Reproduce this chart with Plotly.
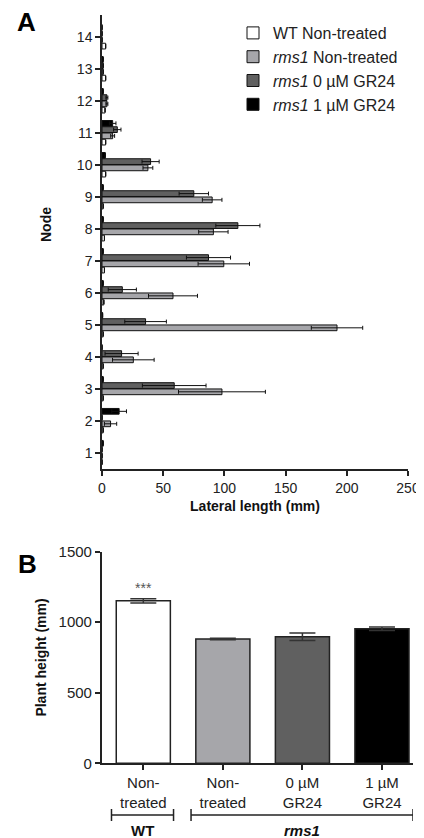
import plotly.graph_objects as go

# ---------------- Panel A data ----------------
nodes = list(range(1, 15))
wt_nt = [0, 1, 1, 1, 1, 1.5, 2, 2, 1, 3, 3, 2.5, 3, 3]
wt_nt_err = [0] * 14
rms1_nt = [0, 7, 98, 25.6, 192, 58, 99.5, 91, 90, 37.5, 8.7, 4, 1, 0]
rms1_nt_err = [0, 5, 35.5, 17, 21, 20, 21, 12, 8, 4, 1.6, 0.8, 0, 0]
rms1_0 = [0, 0, 59, 16, 35.6, 16.6, 87, 111, 75, 39.7, 12.5, 4, 1, 0]
rms1_0_err = [0, 0, 26, 13.5, 17, 11.5, 18, 18, 12, 7, 3, 0.8, 0, 0]
rms1_1 = [1, 14, 1, 0, 0.5, 1, 1, 1, 1, 2.7, 8.7, 1, 1, 0]
rms1_1_err = [0, 6, 0, 0, 0, 0, 0, 0, 0, 0, 2.7, 0, 0, 0]

series_names = ["WT Non-treated", "<i>rms1</i> Non-treated",
                "<i>rms1</i> 0 µM GR24", "<i>rms1</i> 1 µM GR24"]
series_vals = [wt_nt, rms1_nt, rms1_0, rms1_1]
series_errs = [wt_nt_err, rms1_nt_err, rms1_0_err, rms1_1_err]
colors = ["#ffffff", "#a6a6aa", "#606060", "#000000"]

x_ticks_a = [0, 50, 100, 150, 200, 250]

# ---------------- Panel B data ----------------
groups = ["Non-<br>treated", "Non-<br>treated", "0 µM<br>GR24", "1 µM<br>GR24"]
heights = [1152, 881, 897, 954]
heights_err = [15, 6, 26, 12]
y_ticks_b = [0, 500, 1000, 1500]

FONT = "Liberation Sans, Arial, sans-serif"
OFF = 8                      # page body margin of the html output
W, H = 424 - OFF, 838 - OFF  # figure size so that it fills the window


def px(x):
    return (x - OFF) / W


def py(y):
    return 1 - (y - OFF) / H


fig = go.Figure()

for name, vals, errs, col in zip(series_names, series_vals, series_errs, colors):
    fig.add_trace(go.Bar(
        y=nodes, x=vals, orientation="h", name=name,
        marker=dict(color=col, line=dict(color="#111111", width=1)),
        error_x=dict(type="data", array=errs, visible=True, color="#111111",
                     thickness=1, width=2),
        xaxis="x", yaxis="y",
    ))

fig.add_trace(go.Bar(
    x=list(range(len(groups))), y=heights, width=0.68,
    marker=dict(color=colors, line=dict(color="#222222", width=1.5)),
    error_y=dict(type="data", array=heights_err, visible=True, color="#333333",
                 thickness=1.5, width=13),
    xaxis="x2", yaxis="y2", showlegend=False,
))

axis_common = dict(showline=True, linecolor="#222222", linewidth=1.5,
                   ticks="outside", ticklen=5, tickwidth=1.5, tickcolor="#222222",
                   showgrid=False, zeroline=False, automargin=False,
                   tickfont=dict(family=FONT, size=14, color="#222222"))

fig.update_layout(
    width=W, height=H,
    margin=dict(l=0, r=0, t=0, b=0, autoexpand=False),
    paper_bgcolor="white", plot_bgcolor="white",
    barmode="group", bargap=0.22, bargroupgap=0.08,
    font=dict(family=FONT, color="#222222"),
    xaxis=dict(domain=[px(102), px(408)], range=[0, 250], tickvals=x_ticks_a,
               anchor="y",
               title=dict(text="<b>Lateral length (mm)</b>", standoff=7,
                          font=dict(family=FONT, size=14, color="#111111")),
               **axis_common),
    yaxis=dict(domain=[py(469), py(15)], range=[0.49, 14.68],
               tickvals=nodes, anchor="x", **axis_common),
    xaxis2=dict(domain=[px(101.7), px(413)], range=[-0.523, 3.39],
                tickvals=list(range(len(groups))), ticktext=groups, anchor="y2",
                **{**axis_common, "tickfont": dict(family=FONT, size=15, color="#222222")}),
    yaxis2=dict(domain=[py(763.3), py(551.7)], range=[0, 1500],
                tickvals=y_ticks_b, anchor="x2",
                title=dict(text="<b>Plant height (mm)</b>", standoff=9,
                           font=dict(family=FONT, size=14, color="#111111")),
                **{**axis_common, "tickfont": dict(family=FONT, size=15, color="#222222")}),
    legend=dict(x=px(273 - 40), y=py(16), xanchor="left", yanchor="top",
                traceorder="normal", bgcolor="rgba(0,0,0,0)",
                font=dict(family=FONT, size=16, color="#222222")),
)

# y-axis title of panel A (placed above centre as in the original)
fig.add_annotation(text="<b>Node</b>", x=px(46), y=py(225), xref="paper", yref="paper",
                   textangle=-90, showarrow=False, xanchor="center", yanchor="middle",
                   font=dict(family=FONT, size=14, color="#111111"))

# panel letters
fig.add_annotation(text="<b>A</b>", x=px(26), y=py(22), xref="paper", yref="paper",
                   showarrow=False, xanchor="center", yanchor="middle",
                   font=dict(family=FONT, size=26, color="#000000"))
fig.add_annotation(text="<b>B</b>", x=px(27), y=py(564), xref="paper", yref="paper",
                   showarrow=False, xanchor="center", yanchor="middle",
                   font=dict(family=FONT, size=26, color="#000000"))

# significance stars
fig.add_annotation(text="***", x=0, y=heights[0] + heights_err[0], xref="x2", yref="y2",
                   showarrow=False, yanchor="bottom", yshift=1,
                   font=dict(family=FONT, size=14, color="#555555"))

# group brackets under panel B
yb = py(815)
cap = 6 / H
for x0, x1, label in [(-0.4, 0.38, "<b>WT</b>"), (0.6, 3.39, "<b><i>rms1</i></b>")]:
    fig.add_shape(type="line", x0=x0, x1=x1, y0=yb, y1=yb, xref="x2", yref="paper",
                  line=dict(color="#222222", width=1.5))
    for xx in (x0, x1):
        fig.add_shape(type="line", x0=xx, x1=xx, y0=yb - cap, y1=yb + cap,
                      xref="x2", yref="paper", line=dict(color="#222222", width=1.5))
    fig.add_annotation(text=label, x=(x0 + x1) / 2, y=py(830), xref="x2", yref="paper",
                       showarrow=False, xanchor="center", yanchor="middle",
                       font=dict(family=FONT, size=15, color="#111111"))

fig.write_html("out.html")
